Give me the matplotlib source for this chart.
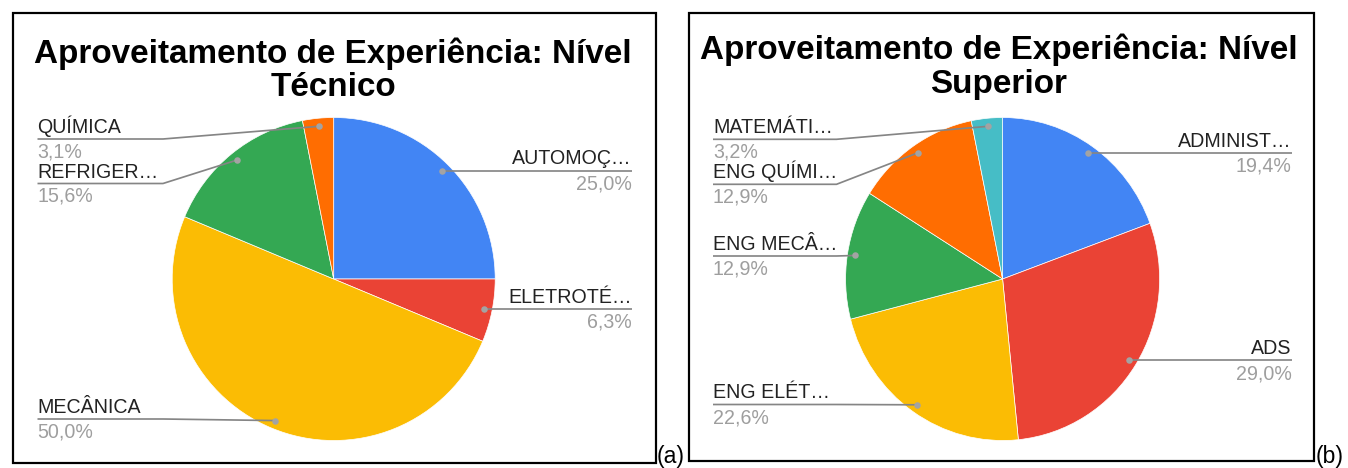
import matplotlib
matplotlib.use('Agg')
import matplotlib.pyplot as plt
from matplotlib.patches import Rectangle
import numpy as np

# ---------------- data ----------------
tec_labels = ["AUTOMOÇ…", "ELETROTÉ…", "MECÂNICA", "REFRIGER…", "QUÍMICA"]
tec_values = [25.0, 6.3, 50.0, 15.6, 3.1]

sup_labels = ["ADMINIST…", "ADS", "ENG ELÉT…", "ENG MECÂ…", "ENG QUÍMI…", "MATEMÁTI…"]
sup_values = [19.4, 29.0, 22.6, 12.9, 12.9, 3.2]

title_tec = ["Aproveitamento de Experiência: Nível", "Técnico"]
title_sup = ["Aproveitamento de Experiência: Nível", "Superior"]
panel_tags = ["(a)", "(b)"]

slice_colors = ['#4285F4', '#EA4335', '#FBBC04', '#34A853', '#FF6D01', '#46BDC6']

# ---------------- layout (pixels) ----------------
W, H, DPI = 1348, 468, 100
PX = 72.0 / DPI  # px -> pt

plt.rcParams['font.family'] = ['Liberation Sans', 'DejaVu Sans']

panels = [
    dict(labels=tec_labels, values=tec_values, title=title_tec, tag=panel_tags[0],
         rect=(12.5, 12.5, 655.7, 462.5), title_cx=333, title_base=(63, 96.5),
         cx=333.7, cy=279.0, rx=161.5, ry=161.5,
         left_x=37.5, right_x=631.5, elbow_x=163,
         left_line_y={2: 419.0, 3: 183.5, 4: 139.0},
         tag_x=657),
    dict(labels=sup_labels, values=sup_values, title=title_sup, tag=panel_tags[1],
         rect=(689.0, 13.0, 1313.5, 460.5), title_cx=998.6, title_base=(59.5, 92.5),
         cx=1002.6, cy=279.0, rx=157.0, ry=161.5,
         left_x=713.0, right_x=1291.7, elbow_x=836.5,
         left_line_y={2: 404.5, 3: 256.0, 4: 184.3, 5: 139.3},
         tag_x=1316),
]

fig = plt.figure(figsize=(W / DPI, H / DPI), dpi=DPI)
fig.patch.set_facecolor('white')

overlay = fig.add_axes([0, 0, 1, 1], zorder=5)
overlay.set_xlim(0, W)
overlay.set_ylim(H, 0)
overlay.axis('off')

LABEL_C = '#222222'
PCT_C = '#9e9e9e'
LINE_C = '#858585'
DOT_C = '#a3a3a3'
LABEL_FS = 19.6 * PX
TITLE_FS = 33.3 * PX

for p in panels:
    cx, cy, rx, ry = p['cx'], p['cy'], p['rx'], p['ry']
    ax = fig.add_axes([(cx - rx) / W, (H - cy - ry) / H, 2 * rx / W, 2 * ry / H], zorder=2)
    wedges, _ = ax.pie(p['values'], colors=slice_colors[:len(p['values'])],
                       startangle=90, counterclock=False, radius=1.0,
                       wedgeprops=dict(edgecolor='white', linewidth=0.5))
    ax.set_xlim(-1, 1)
    ax.set_ylim(-1, 1)
    ax.set_aspect('auto')
    ax.axis('off')

    # border
    x0, y0, x1, y1 = p['rect']
    overlay.add_patch(Rectangle((x0, y0), x1 - x0, y1 - y0, fill=False,
                                edgecolor='black', linewidth=2.2 * PX))

    # title
    overlay.text(p['title_cx'], p['title_base'][0], p['title'][0], ha='center', va='baseline',
                 fontsize=TITLE_FS, fontweight='bold', color='black')
    overlay.text(p['title_cx'], p['title_base'][1], p['title'][1], ha='center', va='baseline',
                 fontsize=TITLE_FS, fontweight='bold', color='black')

    # tag
    overlay.text(p['tag_x'], 463, p['tag'], ha='left', va='baseline',
                 fontsize=23 * PX, color='black')

    # labels with leader lines
    for i, (w, lab, val) in enumerate(zip(wedges, p['labels'], p['values'])):
        mid = np.deg2rad((w.theta1 + w.theta2) / 2.0)
        dx, dy = 0.95 * np.cos(mid), 0.95 * np.sin(mid)
        px_, py_ = cx + rx * dx, cy - ry * dy
        pct = f"{val:.1f}".replace('.', ',') + '%'
        if dx >= 0:
            ly = py_
            overlay.plot([px_, p['right_x']], [ly, ly], color=LINE_C, lw=1.7 * PX,
                         solid_capstyle='butt')
            overlay.text(p['right_x'], ly - 6.3, lab, ha='right', va='baseline',
                         fontsize=LABEL_FS, color=LABEL_C)
            overlay.text(p['right_x'], ly + 18.7, pct, ha='right', va='baseline',
                         fontsize=LABEL_FS, color=PCT_C)
        else:
            ly = p['left_line_y'][i]
            overlay.plot([p['left_x'], p['elbow_x'], px_], [ly, ly, py_], color=LINE_C,
                         lw=1.7 * PX, solid_capstyle='butt', solid_joinstyle='round')
            overlay.text(p['left_x'], ly - 6.0, lab, ha='left', va='baseline',
                         fontsize=LABEL_FS, color=LABEL_C)
            overlay.text(p['left_x'], ly + 18.5, pct, ha='left', va='baseline',
                         fontsize=LABEL_FS, color=PCT_C)
        overlay.plot([px_], [py_], 'o', color=DOT_C, markersize=6.5 * PX, markeredgewidth=0)

fig.savefig('out.png', dpi=DPI, facecolor='white')
